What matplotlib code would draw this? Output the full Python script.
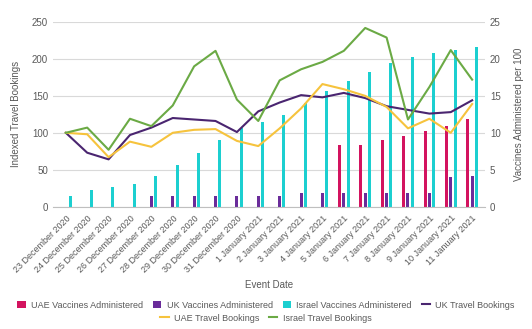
import numpy as np
import matplotlib
matplotlib.use("Agg")
import matplotlib.pyplot as plt

plt.rcParams['font.family'] = ['Liberation Sans', 'DejaVu Sans']

dates = ['23 December 2020', '24 December 2020', '25 December 2020', '26 December 2020',
         '27 December 2020', '28 December 2020', '29 December 2020', '30 December 2020',
         '31 December 2020', '1 January 2021', '2 January 2021', '3 January 2021',
         '4 January 2021', '5 January 2021', '6 January 2021', '7 January 2021',
         '8 January 2021', '9 January 2021', '10 January 2021', '11 January 2021']

# vaccines administered per 100 (right axis)
uae_vacc = [0, 0, 0, 0, 0, 0, 0, 0, 0, 0, 0, 0, 0, 8.3, 8.3, 9.0, 9.5, 10.2, 10.9, 11.85]
uk_vacc = [0, 0, 0, 0, 1.4, 1.4, 1.4, 1.4, 1.4, 1.4, 1.4, 1.9, 1.9, 1.9, 1.9, 1.9, 1.9, 1.9, 4.0, 4.2]
israel_vacc = [1.45, 2.25, 2.6, 3.05, 4.2, 5.7, 7.3, 9.05, 10.6, 11.5, 12.4, 14.0, 15.7, 17.0,
               18.3, 19.5, 20.2, 20.8, 21.2, 21.6]

# indexed travel bookings (left axis)
uk_book = [100, 73, 64, 97, 107, 120, 118, 116, 101, 129, 141, 151, 148, 154, 147, 136, 131, 126, 128, 144]
uae_book = [100, 98, 67, 88, 81, 100, 104, 105, 89, 82, 106, 133, 166, 159, 150, 135, 106, 119, 100, 139]
israel_book = [100, 107, 77, 119, 109, 137, 190, 211, 145, 116, 171, 186, 196, 211, 242, 229, 118, 162, 212, 172]

c_uae = '#D3135F'
c_uk_bar = '#6A2C9A'
c_isr = '#1CCFD0'
c_uk_line = '#4A2570'
c_uae_line = '#F6C33D'
c_isr_line = '#6BAA45'
txt = '#595959'

fig = plt.figure(figsize=(5.32, 3.29), dpi=100)
ax = fig.add_axes([0.0996, 0.372, 0.812, 0.561])
ax2 = ax.twinx()

x = np.arange(len(dates))
w = 0.14
off = 0.2
b1 = ax2.bar(x - off, uae_vacc, w, color=c_uae, label='UAE Vaccines Administered')
b2 = ax2.bar(x, uk_vacc, w, color=c_uk_bar, label='UK Vaccines Administered')
b3 = ax2.bar(x + off, israel_vacc, w, color=c_isr, label='Israel Vaccines Administered')

l1, = ax.plot(x, uk_book, color=c_uk_line, lw=1.5, label='UK Travel Bookings')
l2, = ax.plot(x, uae_book, color=c_uae_line, lw=1.5, label='UAE Travel Bookings')
l3, = ax.plot(x, israel_book, color=c_isr_line, lw=1.5, label='Israel Travel Bookings')

ax.set_zorder(ax2.get_zorder() + 1)
ax.patch.set_visible(False)

ax.set_ylim(0, 250)
ax2.set_ylim(0, 25)
ax.set_yticks(range(0, 251, 50))
ax2.set_yticks(range(0, 26, 5))
ax.set_xlim(-0.6, 19.6)
ax2.yaxis.grid(True, color='#D9D9D9', lw=0.8)
ax2.set_axisbelow(True)

for a in (ax, ax2):
    for s in a.spines.values():
        s.set_visible(False)
    a.tick_params(length=0, colors=txt, labelsize=7)
ax2.spines['bottom'].set_visible(True)
ax2.spines['bottom'].set_color('#BFBFBF')

ax.set_xticks(x)
ax.set_xticklabels(dates, rotation=45, ha='right', rotation_mode='anchor', fontsize=6.5)
ax.tick_params(axis='x', pad=5)
ax.set_xlabel('Event Date', color=txt, fontsize=7, labelpad=4)
ax.set_ylabel('Indexed Travel Bookings', color=txt, fontsize=7, labelpad=8)
ax2.set_ylabel('Vaccines Administered per 100', color=txt, fontsize=7, labelpad=10)

leg1 = fig.legend([b1, b2, b3, l1], [h.get_label() for h in (b1, b2, b3, l1)],
                  loc='center', bbox_to_anchor=(0.5, 0.072), ncol=4, frameon=False,
                  fontsize=6.5, handlelength=0.9, handleheight=0.9, columnspacing=1.1,
                  handletextpad=0.6, labelcolor=txt)
leg2 = fig.legend([l2, l3], [h.get_label() for h in (l2, l3)],
                  loc='center', bbox_to_anchor=(0.5, 0.033), ncol=2, frameon=False,
                  fontsize=6.5, handlelength=0.9, columnspacing=1.1,
                  handletextpad=0.6, labelcolor=txt)

fig.savefig('out.png', dpi=100)
